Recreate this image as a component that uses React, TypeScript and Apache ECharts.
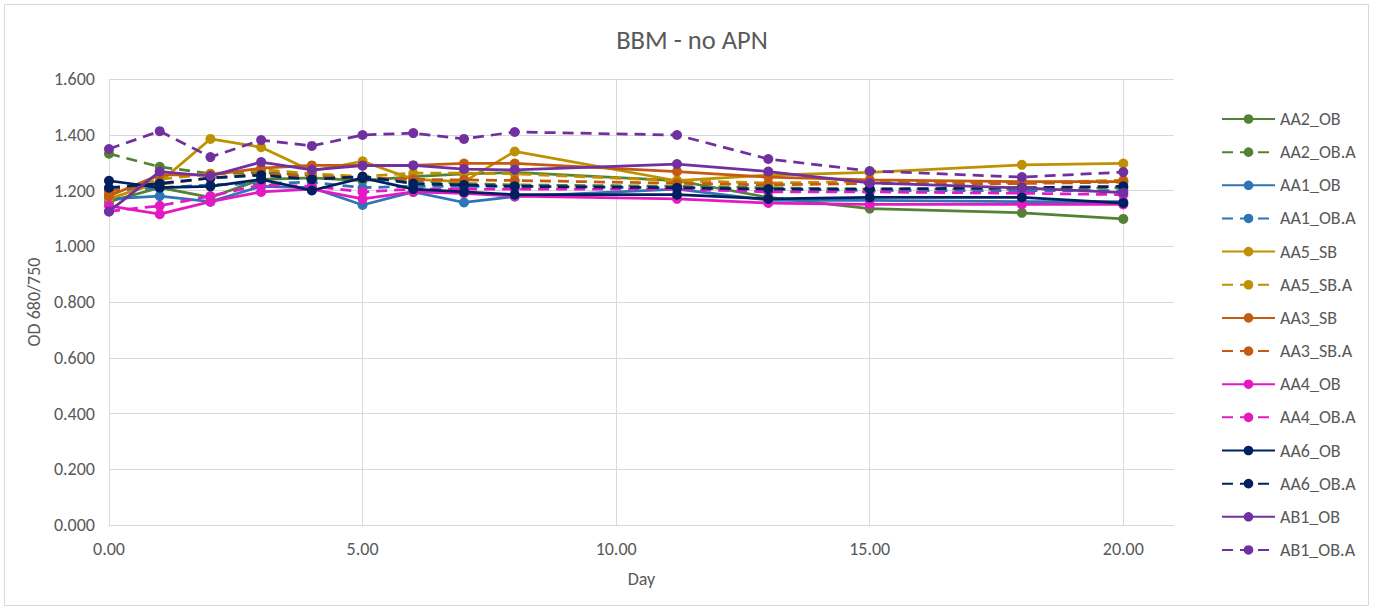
import React, { useEffect, useRef } from "react";
import * as echarts from "echarts";

const days = [0, 1, 2, 3, 4, 5, 6, 7, 8, 11.2, 13, 15, 18, 20];

const seriesNames = [
  "AA2_OB", "AA2_OB.A", "AA1_OB", "AA1_OB.A", "AA5_SB", "AA5_SB.A", "AA3_SB",
  "AA3_SB.A", "AA4_OB", "AA4_OB.A", "AA6_OB", "AA6_OB.A", "AB1_OB", "AB1_OB.A",
];

const AA2_OB = [1.16, 1.21, 1.175, 1.24, 1.245, 1.235, 1.25, 1.26, 1.265, 1.235, 1.175, 1.135, 1.12, 1.098];
const AA2_OB_A = [1.332, 1.285, 1.26, 1.265, 1.255, 1.245, 1.235, 1.225, 1.22, 1.215, 1.21, 1.205, 1.205, 1.21];
const AA1_OB = [1.17, 1.18, 1.16, 1.215, 1.21, 1.148, 1.195, 1.157, 1.178, 1.205, 1.165, 1.165, 1.16, 1.16];
const AA1_OB_A = [1.2, 1.21, 1.22, 1.225, 1.23, 1.21, 1.215, 1.215, 1.215, 1.21, 1.205, 1.2, 1.2, 1.2];
const AA5_SB = [1.17, 1.23, 1.385, 1.355, 1.27, 1.305, 1.24, 1.232, 1.34, 1.235, 1.255, 1.265, 1.292, 1.297];
const AA5_SB_A = [1.19, 1.24, 1.26, 1.275, 1.26, 1.25, 1.262, 1.262, 1.26, 1.235, 1.227, 1.232, 1.227, 1.237];
const AA3_SB = [1.18, 1.256, 1.256, 1.28, 1.29, 1.29, 1.29, 1.297, 1.297, 1.268, 1.248, 1.238, 1.232, 1.232];
const AA3_SB_A = [1.2, 1.222, 1.245, 1.26, 1.25, 1.245, 1.24, 1.238, 1.236, 1.226, 1.22, 1.225, 1.225, 1.23];
const AA4_OB = [1.145, 1.115, 1.16, 1.195, 1.205, 1.17, 1.195, 1.19, 1.18, 1.17, 1.155, 1.15, 1.15, 1.15];
const AA4_OB_A = [1.125, 1.145, 1.18, 1.22, 1.215, 1.195, 1.205, 1.205, 1.205, 1.205, 1.195, 1.195, 1.19, 1.185];
const AA6_OB = [1.235, 1.21, 1.215, 1.24, 1.2, 1.245, 1.205, 1.195, 1.185, 1.185, 1.17, 1.175, 1.175, 1.155];
const AA6_OB_A = [1.21, 1.225, 1.245, 1.255, 1.24, 1.25, 1.225, 1.22, 1.215, 1.21, 1.205, 1.205, 1.21, 1.215];
const AB1_OB = [1.125, 1.268, 1.252, 1.302, 1.274, 1.289, 1.29, 1.277, 1.274, 1.295, 1.268, 1.227, 1.209, 1.192];
const AB1_OB_A = [1.349, 1.413, 1.32, 1.381, 1.36, 1.399, 1.406, 1.385, 1.41, 1.399, 1.313, 1.27, 1.248, 1.266];

const seriesValues = [
  AA2_OB, AA2_OB_A, AA1_OB, AA1_OB_A, AA5_SB, AA5_SB_A, AA3_SB,
  AA3_SB_A, AA4_OB, AA4_OB_A, AA6_OB, AA6_OB_A, AB1_OB, AB1_OB_A,
];

const colors = [
  "#548235", "#548235", "#2E75B6", "#2E75B6", "#BF9000", "#BF9000", "#C55A11",
  "#C55A11", "#E31AC4", "#E31AC4", "#002060", "#002060", "#7030A0", "#7030A0",
];

const FONT = "Calibri, Carlito, 'Noto Sans', 'Liberation Sans', sans-serif";

export default function App() {
  const ref = useRef<HTMLDivElement>(null);
  useEffect(() => {
    document.body.style.margin = "0";
    if (!ref.current) return;
    const chart = echarts.init(ref.current, undefined, { renderer: "svg" });
    const series = seriesNames.map((name, i) => ({
      name,
      type: "line",
      data: days.map((d, j) => [d, seriesValues[i][j]]),
      symbol: "circle",
      symbolSize: 10,
      color: colors[i],
      itemStyle: { color: colors[i] },
      lineStyle: {
        color: colors[i],
        width: 2.75,
        type: name.endsWith(".A") ? [11, 7] : "solid",
      },
      z: 2 + i,
    }));
    chart.setOption({
      animation: false,
      backgroundColor: "#ffffff",
      textStyle: { fontFamily: FONT },
      title: {
        text: "BBM - no APN",
        left: 687,
        textAlign: "center",
        top: 21,
        textStyle: { fontSize: 26.5, fontWeight: "normal", color: "#595959", fontFamily: FONT },
      },
      graphic: [
        {
          type: "rect",
          shape: { x: 4.5, y: 4.5, width: 1364, height: 601 },
          style: { fill: "none", stroke: "#d9d9d9", lineWidth: 1 },
          silent: true,
        },
      ],
      grid: { left: 109, top: 79, width: 1065, height: 446, containLabel: false },
      legend: {
        orient: "vertical",
        left: 1216,
        top: 105,
        itemWidth: 53,
        itemHeight: 12,
        itemGap: 15.15,
        textStyle: { fontSize: 18, lineHeight: 18, color: "#595959", fontFamily: FONT },
        data: seriesNames,
      },
      xAxis: {
        type: "value",
        min: 0,
        max: 21,
        interval: 5,
        name: "Day",
        nameLocation: "middle",
        nameGap: 45,
        nameTextStyle: { fontSize: 18, color: "#595959", fontFamily: FONT },
        axisLine: { show: true, lineStyle: { color: "#d9d9d9" } },
        axisTick: { show: false },
        axisLabel: {
          fontSize: 18,
          color: "#595959",
          margin: 15,
          showMaxLabel: false,
          formatter: (v: number) => (v % 5 === 0 ? v.toFixed(2) : ""),
        },
        splitLine: { show: true, showMaxLine: false, lineStyle: { color: "#d9d9d9" } },
      },
      yAxis: {
        type: "value",
        min: 0,
        max: 1.6,
        interval: 0.2,
        name: "OD 680/750",
        nameLocation: "middle",
        nameGap: 65,
        nameTextStyle: { fontSize: 18, color: "#595959", fontFamily: FONT },
        axisLine: { show: false },
        axisTick: { show: false },
        axisLabel: {
          fontSize: 18,
          color: "#595959",
          margin: 14,
          formatter: (v: number) => v.toFixed(3),
        },
        splitLine: { show: true, lineStyle: { color: "#d9d9d9" } },
      },
      series,
    });
    return () => chart.dispose();
  }, []);
  return <div ref={ref} style={{ width: 1373, height: 610 }} />;
}
